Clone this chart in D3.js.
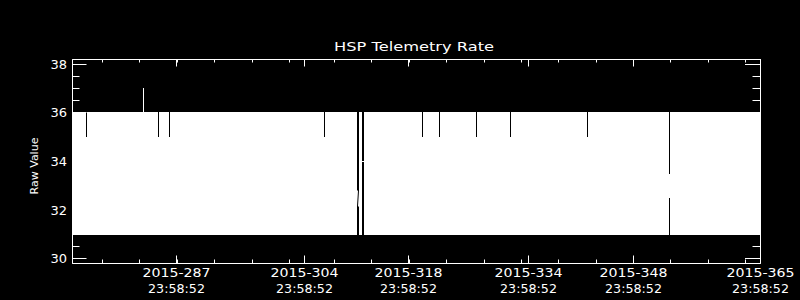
<!DOCTYPE html>
<html lang="en">
<head>
<meta charset="UTF-8">
<title>HSP Telemetry Rate</title>
<style>
    body {
        margin: 0;
        background-color: #000;
    }

    svg {
        display: block;
        background-color: #000;
    }

    .band {
        fill: #fff;
        shape-rendering: crispEdges;
    }

    .dip {
        stroke: #000;
        stroke-width: 1;
        shape-rendering: crispEdges;
    }

    .stray {
        stroke: #fff;
        stroke-width: 1;
        fill: none;
    }
</style>
</head>
<body>
<svg width="800" height="300" id="chart"></svg>

<script src="https://d3js.org/d3.v7.min.js"></script>
<script>
    // x is the 2015 day of year (fractional), y the raw telemetry value
    const xDomain = [274.05, 366.0];
    const yDomain = [29.8, 38.2];

    const xTickDays = [287.9992, 304.9992, 318.9992, 334.9992, 348.9992, 365.9992];
    const xTickDates = ["2015-287", "2015-304", "2015-318", "2015-334", "2015-348", "2015-365"];
    const xTickTimes = ["23:58:52", "23:58:52", "23:58:52", "23:58:52", "23:58:52", "23:58:52"];
    const xMinorDays = [278.05, 283.05, 288.05, 293.05, 298.05, 303.1, 309.1, 314.05, 319.1,
                        324.05, 329.05, 334.1, 339.05, 344.05, 349.05, 354.0, 359.05, 364.05];

    const yTicks = [30, 32, 34, 36, 38];
    const yMinorTicks = [30.5, 31, 31.5, 32.5, 33, 33.5, 34.5, 35, 35.5, 36.5, 37, 37.5];

    // the rate flips between its low and high value all the time,
    // so the plot is the envelope of the samples
    const bandLow = 31;
    const bandHigh = 36;
    const coverStart = [274.05, 312.41, 313.08, 353.98];
    const coverEnd = [312.14, 312.81, 353.84, 366.0];

    // samples where the peak only got to 35
    const dipDays = [275.92, 285.54, 287.01, 307.73, 320.83, 323.10, 328.04, 332.59, 342.88];
    const dipValue = 35;

    // one peak up to 37
    const spikeDays = [283.54];
    const spikeValue = 37;

    // the few samples inside the data gaps
    const strayDays = [[312.14, 312.27], [312.81, 313.08], [353.84, 353.84]];
    const strayValues = [[32.8, 32.15], [34.0, 34.0], [33.45, 32.5]];

    const svg = d3.select("#chart");
    const plotLeft = 72, plotRight = 760, plotTop = 59, plotBottom = 263;

    const x = d3.scaleLinear().domain(xDomain).rangeRound([plotLeft, plotRight]);
    const y = d3.scaleLinear().domain(yDomain).rangeRound([plotBottom, plotTop]);

    // envelope of the data
    svg.append("g").selectAll("rect")
        .data(d3.zip(coverStart, coverEnd))
        .enter().append("rect")
        .attr("class", "band")
        .attr("x", d => x(d[0]))
        .attr("width", d => x(d[1]) - x(d[0]))
        .attr("y", y(bandHigh))
        .attr("height", y(bandLow) + 1 - y(bandHigh));

    svg.append("g").selectAll("line")
        .data(dipDays)
        .enter().append("line")
        .attr("class", "dip")
        .attr("x1", d => x(d) + 0.5)
        .attr("x2", d => x(d) + 0.5)
        .attr("y1", y(bandHigh))
        .attr("y2", y(dipValue));

    svg.append("g").selectAll("rect")
        .data(spikeDays)
        .enter().append("rect")
        .attr("class", "band")
        .attr("x", d => x(d))
        .attr("width", 1)
        .attr("y", y(spikeValue))
        .attr("height", y(bandHigh) - y(spikeValue));

    const strayLine = d3.line()
        .x(d => x(d[0]) + 0.5)
        .y(d => y(d[1]) + 0.5);

    svg.append("g").selectAll("path")
        .data(d3.zip(strayDays, strayValues).map(d => d3.zip(d[0], d[1])))
        .enter().append("path")
        .attr("class", "stray")
        .attr("d", d => {
            // a vertical run covers whole pixel rows
            if (d[0][0] === d[1][0]) {
                const cx = x(d[0][0]) + 0.5;
                return `M${cx},${y(d[0][1])}V${y(d[1][1]) + 1}`;
            }
            if (d[0][1] === d[1][1]) {
                const cy = y(d[0][1]) + 0.5;
                return `M${x(d[0][0])},${cy}H${x(d[1][0])}`;
            }
            return strayLine(d);
        });

    // axes
    const font = "DejaVu Sans, sans-serif";

    function style(g) {
        g.attr("color", "#fff").attr("font-family", font);
    }

    const bottomAxis = svg.append("g")
        .attr("transform", `translate(0,${plotBottom})`)
        .call(d3.axisBottom(x).tickValues(xTickDays).tickSize(-7.5).tickSizeOuter(0)
            .tickFormat((d, i) => i))
        .call(style);

    bottomAxis.selectAll(".tick text").each(function (d, i) {
        const t = d3.select(this).text(null).attr("y", null).attr("dy", null)
            .attr("font-size", 12.5);
        t.append("tspan").attr("x", 0).attr("y", 14.2)
            .attr("textLength", 68).attr("lengthAdjust", "spacingAndGlyphs")
            .text(xTickDates[i]);
        t.append("tspan").attr("x", 0).attr("y", 29.7)
            .attr("textLength", 57).attr("lengthAdjust", "spacingAndGlyphs")
            .text(xTickTimes[i]);
    });

    svg.append("g")
        .attr("transform", `translate(0,${plotBottom})`)
        .call(d3.axisBottom(x).tickValues(xMinorDays).tickSize(-3.5).tickSizeOuter(0).tickFormat(""))
        .call(style);

    svg.append("g")
        .attr("transform", `translate(0,${plotTop})`)
        .call(d3.axisTop(x).tickValues(xTickDays).tickSize(-7.5).tickSizeOuter(0).tickFormat(""))
        .call(style);

    svg.append("g")
        .attr("transform", `translate(0,${plotTop})`)
        .call(d3.axisTop(x).tickValues(xMinorDays).tickSize(-3.5).tickSizeOuter(0).tickFormat(""))
        .call(style);

    svg.append("g")
        .attr("transform", `translate(${plotLeft},0)`)
        .call(d3.axisLeft(y).tickValues(yTicks).tickSize(-14.5).tickSizeOuter(0).tickPadding(5)
            .tickFormat(d3.format("d")))
        .call(style)
        .attr("font-size", 13);

    svg.append("g")
        .attr("transform", `translate(${plotLeft},0)`)
        .call(d3.axisLeft(y).tickValues(yMinorTicks).tickSize(-7.5).tickSizeOuter(0).tickFormat(""))
        .call(style);

    svg.append("g")
        .attr("transform", `translate(${plotRight},0)`)
        .call(d3.axisRight(y).tickValues(yTicks).tickSize(-15).tickSizeOuter(0).tickFormat(""))
        .call(style);

    svg.append("g")
        .attr("transform", `translate(${plotRight},0)`)
        .call(d3.axisRight(y).tickValues(yMinorTicks).tickSize(-7.5).tickSizeOuter(0).tickFormat(""))
        .call(style);

    // title and y label
    svg.append("text")
        .attr("x", 414)
        .attr("y", 51)
        .attr("text-anchor", "middle")
        .attr("fill", "#fff")
        .attr("font-family", font)
        .attr("font-size", 13)
        .attr("textLength", 160)
        .attr("lengthAdjust", "spacingAndGlyphs")
        .text("HSP Telemetry Rate");

    svg.append("text")
        .attr("transform", "translate(38,166) rotate(-90)")
        .attr("text-anchor", "middle")
        .attr("fill", "#fff")
        .attr("font-family", font)
        .attr("font-size", 11)
        .text("Raw Value");
</script>
</body>
</html>
